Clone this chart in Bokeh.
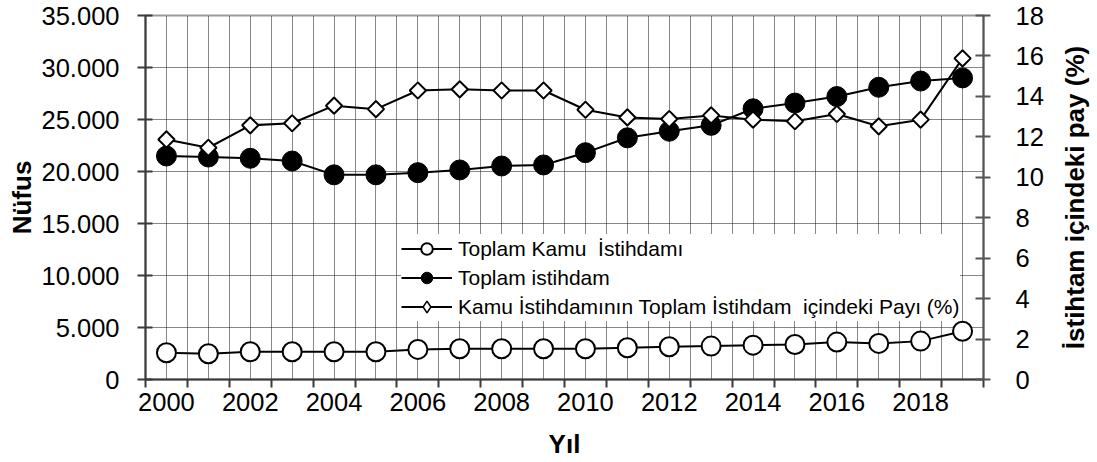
import math
from bokeh.plotting import figure
from bokeh.layouts import row
from bokeh.models import (Range1d, LinearAxis, FixedTicker, Legend, LegendItem,
                          ColumnDataSource, Title)
from bokeh.embed import file_html
from bokeh.resources import INLINE

# ---- data ----
years = list(range(2000, 2020))
kamu_istihdam = [2570, 2480, 2670, 2670, 2670, 2670, 2890, 2960, 2960, 2960,
                 2960, 3050, 3150, 3210, 3300, 3370, 3600, 3470, 3690, 4640]
toplam_istihdam = [21490, 21390, 21270, 21010, 19680, 19680, 19890, 20150, 20530, 20630,
                   21810, 23240, 23870, 24440, 26030, 26580, 27210, 28100, 28700, 29000]
kamu_payi = [11.87, 11.46, 12.57, 12.67, 13.54, 13.37, 14.29, 14.35, 14.29, 14.29,
             13.34, 12.96, 12.88, 13.06, 12.85, 12.77, 13.13, 12.52, 12.85, 15.88]

series_names = ["Toplam Kamu  İstihdamı", "Toplam istihdam",
                "Kamu İstihdamının Toplam İstihdam  içindeki Payı (%)"]

x_label_years = [2000, 2002, 2004, 2006, 2008, 2010, 2012, 2014, 2016, 2018]
y_ticks = [0, 5000, 10000, 15000, 20000, 25000, 30000, 35000]
y_tick_labels = ["0", "5.000", "10.000", "15.000", "20.000", "25.000", "30.000", "35.000"]
pct_ticks = [0, 2, 4, 6, 8, 10, 12, 14, 16, 18]
pct_tick_labels = ["0", "2", "4", "6", "8", "10", "12", "14", "16", "18"]

x_title = "Yıl"
y_title = "Nüfus"
y2_title = "İstihtam içindeki pay (%)"

FONT = "Liberation Sans"
TICK_SIZE = "25.5px"
TITLE_SIZE = "26px"

bounds = [y - 0.5 for y in years] + [years[-1] + 0.5]

p = figure(width=1057, height=462,
           x_range=Range1d(bounds[0], bounds[-1]), y_range=Range1d(y_ticks[0], y_ticks[-1]),
           output_backend="svg", toolbar_location=None,
           min_border_left=145, min_border_right=74, min_border_top=15, min_border_bottom=80)
p.extra_y_ranges = {"pct": Range1d(pct_ticks[0], pct_ticks[-1])}
p.background_fill_color = "white"
p.border_fill_color = "white"
p.outline_line_color = "#9a9a9a"
p.outline_line_width = 2

# grids
GRID_COLOR = "#111111"
p.xgrid.ticker = FixedTicker(ticks=sorted(years + bounds))
p.xgrid.grid_line_color = GRID_COLOR
p.xgrid.grid_line_dash = "1 1"
p.xgrid.grid_line_width = 1
p.ygrid.ticker = FixedTicker(ticks=y_ticks)
p.ygrid.grid_line_color = GRID_COLOR
p.ygrid.grid_line_dash = "1 1"
p.ygrid.grid_line_width = 1

AX_COLOR = "#3a3a3a"

# x axis
xa = p.xaxis[0]
xa.ticker = FixedTicker(ticks=x_label_years, minor_ticks=bounds)
xa.major_label_overrides = {y: str(y) for y in x_label_years}
xa.major_tick_in = 0
xa.major_tick_out = 0
xa.minor_tick_in = 0
xa.minor_tick_out = 8
xa.minor_tick_line_color = AX_COLOR
xa.minor_tick_line_width = 2
xa.axis_line_color = AX_COLOR
xa.axis_line_width = 2
xa.major_label_standoff = 5
xa.major_label_text_font = FONT
xa.major_label_text_font_size = TICK_SIZE
xa.major_label_text_color = "black"
xa.axis_label = x_title
xa.axis_label_text_font = FONT
xa.axis_label_text_font_style = "bold"
xa.axis_label_text_font_size = TITLE_SIZE
xa.axis_label_text_color = "black"
xa.axis_label_standoff = 15

# left axis
ya = p.yaxis[0]
ya.ticker = FixedTicker(ticks=y_ticks)
ya.major_label_overrides = dict(zip(y_ticks, y_tick_labels))
ya.major_tick_in = 7
ya.major_tick_out = 8
ya.minor_tick_in = 0
ya.minor_tick_out = 0
ya.major_tick_line_color = AX_COLOR
ya.major_tick_line_width = 2
ya.axis_line_color = AX_COLOR
ya.axis_line_width = 2
ya.major_label_standoff = 18
ya.major_label_text_font = FONT
ya.major_label_text_font_size = TICK_SIZE
ya.major_label_text_color = "black"
ya.axis_label = y_title
ya.axis_label_text_font = FONT
ya.axis_label_text_font_style = "bold"
ya.axis_label_text_font_size = TITLE_SIZE
ya.axis_label_text_color = "black"
ya.axis_label_standoff = 2

# right axis
ra = LinearAxis(y_range_name="pct", ticker=FixedTicker(ticks=pct_ticks),
                major_label_standoff=25)
ra.major_label_overrides = dict(zip(pct_ticks, pct_tick_labels))
ra.major_tick_in = 8
ra.major_tick_out = 7
ra.minor_tick_in = 0
ra.minor_tick_out = 0
ra.major_tick_line_color = "#555555"
ra.major_tick_line_width = 2
ra.axis_line_color = "#555555"
ra.axis_line_width = 2
ra.major_label_text_font = FONT
ra.major_label_text_font_size = TICK_SIZE
ra.major_label_text_color = "black"
p.add_layout(ra, "right")

# ---- series ----
src = ColumnDataSource(data=dict(x=years, kamu=kamu_istihdam, toplam=toplam_istihdam, pay=kamu_payi))

p.line("x", "kamu", source=src, line_color="black", line_width=2)
p.scatter("x", "kamu", source=src, marker="circle", size=19,
          fill_color="white", line_color="black", line_width=2)

p.line("x", "toplam", source=src, line_color="black", line_width=2)
p.scatter("x", "toplam", source=src, marker="circle", size=20,
          fill_color="black", line_color="black", line_width=1)

p.line("x", "pay", source=src, line_color="black", line_width=2, y_range_name="pct")
p.scatter("x", "pay", source=src, marker="square", angle=math.pi / 4, size=11.5,
          fill_color="white", line_color="black", line_width=2, y_range_name="pct")

# legend proxies (a single NaN point: nothing drawn on the chart, only in the legend)
nan = float("nan")
proxy = ColumnDataSource(data=dict(x=[nan], y=[nan]))
l1 = p.line("x", "y", source=proxy, line_color="black", line_width=2)
m1 = p.scatter("x", "y", source=proxy, marker="circle", size=10,
               fill_color="white", line_color="black", line_width=2)
l2 = p.line("x", "y", source=proxy, line_color="black", line_width=2)
m2 = p.scatter("x", "y", source=proxy, marker="circle", size=11,
               fill_color="black", line_color="black", line_width=1)
l3 = p.line("x", "y", source=proxy, line_color="black", line_width=2)
m3 = p.scatter("x", "y", source=proxy, marker="diamond", size=12,
               fill_color="white", line_color="black", line_width=1.5)

legend = Legend(items=[
    LegendItem(label=series_names[0], renderers=[l1, m1]),
    LegendItem(label=series_names[1], renderers=[l2, m2]),
    LegendItem(label=series_names[2], renderers=[l3, m3]),
], location=(256, 58))
legend.margin = 0
legend.padding = 6
legend.spacing = 0
legend.label_height = 29
legend.glyph_height = 29
legend.glyph_width = 51
legend.label_standoff = 6
legend.label_text_font = FONT
legend.label_text_font_size = "21px"
legend.label_text_color = "black"
legend.border_line_color = None
legend.background_fill_color = "white"
legend.background_fill_alpha = 1.0
p.add_layout(legend, "center")

# narrow companion figure carrying the right-hand axis title (reads bottom-to-top)
p2 = figure(width=40, height=462, output_backend="svg", toolbar_location=None,
            x_axis_type=None, y_axis_type=None,
            min_border_left=3, min_border_right=0, min_border_top=12, min_border_bottom=83)
p2.outline_line_color = None
p2.background_fill_color = "white"
p2.border_fill_color = "white"
rt = Title(text=y2_title, align="center", standoff=0, offset=0,
           text_font=FONT, text_font_style="bold", text_font_size=TITLE_SIZE,
           text_color="black")
p2.add_layout(rt, "left")

layout = row(p, p2)
open("out.html", "w").write(file_html(layout, INLINE))
